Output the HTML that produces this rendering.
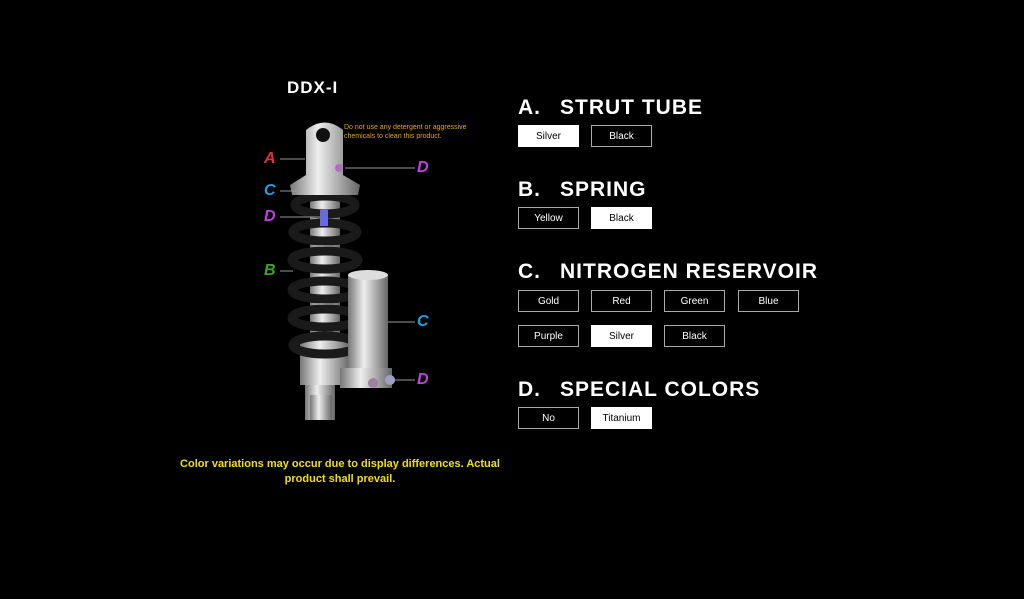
<!DOCTYPE html>
<html><head><style>
body{margin:0;width:1024px;height:599px;background:#000;position:relative;overflow:hidden;font-family:"Liberation Sans",sans-serif;color:#fff}
.h{position:absolute;left:518px;font-size:21px;font-weight:bold;letter-spacing:1px}
.h span{display:inline-block;width:42px}
.b{position:absolute;width:59px;height:20px;border:1px solid #aaa;font-size:10px;line-height:21px;text-align:center;color:#fff;background:#000}
.b.s{background:#fff;color:#000;border-color:#fff}
.l{position:absolute;font-size:16px;font-weight:bold;font-style:italic}
</style></head><body>
<div style="position:absolute;left:287px;top:78px;font-size:17px;font-weight:bold;letter-spacing:1px">DDX-I</div>
<div style="position:absolute;left:344px;top:123px;font-size:7px;color:#e0a800;line-height:9px">Do not use any detergent or aggressive<br>chemicals to clean this product.</div>
<svg style="position:absolute;left:0;top:0" width="1024" height="599">
<defs><linearGradient id="m" x1="0" x2="1"><stop offset="0" stop-color="#777"/><stop offset=".4" stop-color="#eee"/><stop offset="1" stop-color="#666"/></linearGradient></defs>
<rect x="305" y="385" width="30" height="35" fill="url(#m)"/>
<rect x="300" y="335" width="50" height="50" fill="url(#m)"/>
<rect x="310" y="190" width="30" height="150" fill="url(#m)"/>
<g fill="none" stroke="#1a1a1a" stroke-width="9">
<ellipse cx="325" cy="205" rx="30" ry="9"/><ellipse cx="325" cy="232" rx="32" ry="9"/><ellipse cx="325" cy="260" rx="33" ry="9"/><ellipse cx="325" cy="290" rx="33" ry="9"/><ellipse cx="325" cy="318" rx="33" ry="9"/><ellipse cx="325" cy="345" rx="32" ry="9"/>
</g>
<rect x="320" y="210" width="8" height="16" fill="#6a6ae0"/>
<path d="M306 130 Q325 115 343 130 L343 175 L360 185 L358 195 L292 195 L290 185 L306 175Z" fill="url(#m)"/>
<circle cx="323" cy="135" r="7" fill="#111"/>
<circle cx="339" cy="168" r="4" fill="#b070c0"/>
<rect x="348" y="275" width="40" height="95" fill="url(#m)"/>
<ellipse cx="368" cy="275" rx="20" ry="5" fill="#ddd"/>
<rect x="340" y="368" width="52" height="20" fill="url(#m)"/>
<circle cx="373" cy="383" r="5" fill="#a080a0"/><circle cx="390" cy="380" r="5" fill="#a0a0c0"/>
<rect x="310" y="395" width="22" height="25" fill="url(#m)"/>
<g stroke="#999" stroke-width="1">
<line x1="280" y1="159" x2="305" y2="159"/><line x1="280" y1="191" x2="300" y2="191"/><line x1="280" y1="217" x2="320" y2="217"/><line x1="280" y1="271" x2="293" y2="271"/><line x1="345" y1="168" x2="415" y2="168"/><line x1="388" y1="322" x2="415" y2="322"/><line x1="395" y1="380" x2="415" y2="380"/>
</g></svg>
<div class="l" style="left:264px;top:150px;color:#e03040">A</div>
<div class="l" style="left:264px;top:182px;color:#20a0e0">C</div>
<div class="l" style="left:264px;top:208px;color:#c040e0">D</div>
<div class="l" style="left:264px;top:262px;color:#40a030">B</div>
<div class="l" style="left:417px;top:159px;color:#c040e0">D</div>
<div class="l" style="left:417px;top:313px;color:#20a0e0">C</div>
<div class="l" style="left:417px;top:371px;color:#c040e0">D</div>
<div style="position:absolute;left:160px;top:457px;width:360px;text-align:center;color:#f0e000;font-size:11px;line-height:15px;font-weight:bold">Color variations may occur due to display differences. Actual<br>product shall prevail.</div>

<div class="h" style="top:96px"><span>A.</span>STRUT TUBE</div>
<div class="b s" style="left:518px;top:125px">Silver</div><div class="b" style="left:591px;top:125px">Black</div>
<div class="h" style="top:178px"><span>B.</span>SPRING</div>
<div class="b" style="left:518px;top:207px">Yellow</div><div class="b s" style="left:591px;top:207px">Black</div>
<div class="h" style="top:260px"><span>C.</span>NITROGEN RESERVOIR</div>
<div class="b" style="left:518px;top:290px">Gold</div><div class="b" style="left:591px;top:290px">Red</div><div class="b" style="left:664px;top:290px">Green</div><div class="b" style="left:738px;top:290px">Blue</div>
<div class="b" style="left:518px;top:325px">Purple</div><div class="b s" style="left:591px;top:325px">Silver</div><div class="b" style="left:664px;top:325px">Black</div>
<div class="h" style="top:378px"><span>D.</span>SPECIAL COLORS</div>
<div class="b" style="left:518px;top:407px">No</div><div class="b s" style="left:591px;top:407px">Titanium</div>
</body></html>
